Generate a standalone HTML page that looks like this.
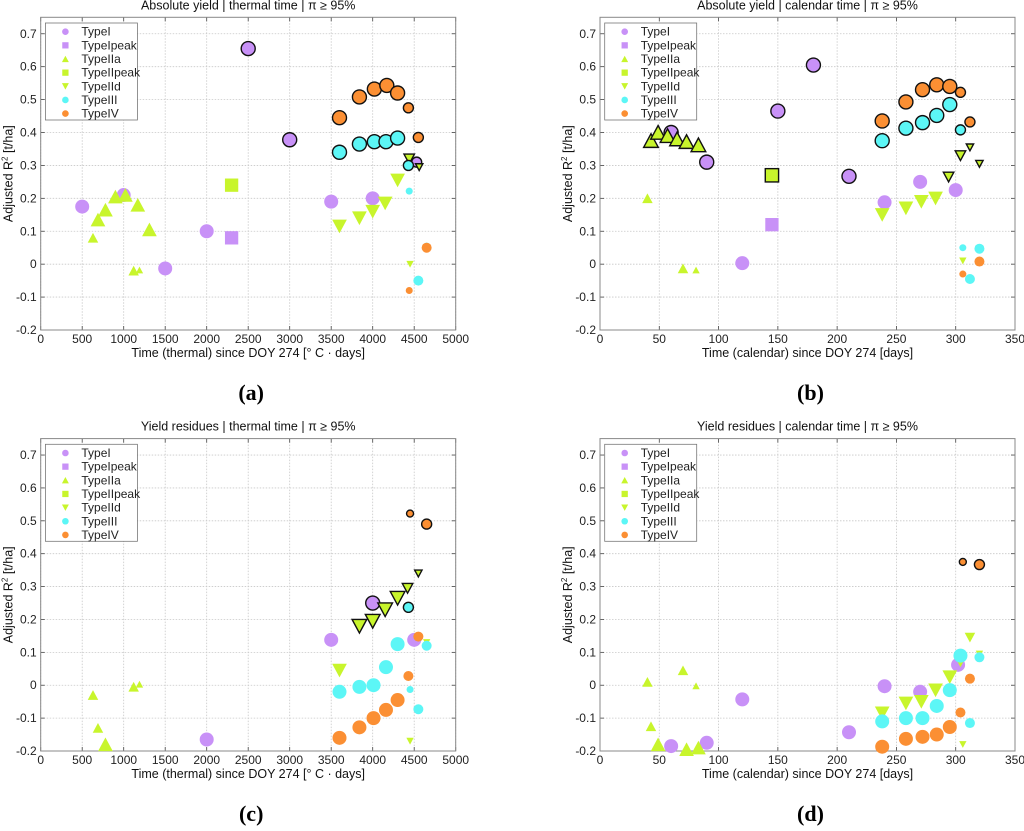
<!DOCTYPE html>
<html><head><meta charset="utf-8">
<style>
html,body{margin:0;padding:0;background:#fff;}
svg{display:block;font-family:"Liberation Sans",sans-serif;}
</style></head>
<body>
<svg id="fig" width="1024" height="831" viewBox="0 0 1024 831" xmlns="http://www.w3.org/2000/svg"></svg>
<script>
// ---- data: [x, y, size(L/M/S), outlined(1/0)] ----
const xTicksThermal = [0,500,1000,1500,2000,2500,3000,3500,4000,4500,5000];
const xTicksCalendar = [0,50,100,150,200,250,300,350];
const yTicks = [-0.2,-0.1,0,0.1,0.2,0.3,0.4,0.5,0.6,0.7];
const yTickLabels = ["-0.2","-0.1","0","0.1","0.2","0.3","0.4","0.5","0.6","0.7"];
const seriesNames = ["TypeI","TypeIpeak","TypeIIa","TypeIIpeak","TypeIId","TypeIII","TypeIV"];

const a_typeI = [[500,0.175,'L',0],[1000,0.21,'L',0],[1500,-0.013,'L',0],[2000,0.10,'L',0],[2500,0.655,'L',1],[3000,0.378,'L',1],[3500,0.19,'L',0],[4000,0.20,'L',0],[4530,0.31,'M',1]];
const a_typeIpeak = [[2300,0.08,'L',0]];
const a_typeIIa = [[630,0.08,'M',0],[690,0.135,'L',0],[780,0.165,'L',0],[900,0.205,'L',0],[1020,0.21,'L',0],[1170,0.18,'L',0],[1310,0.105,'L',0],[1120,-0.02,'M',0],[1190,-0.018,'S',0]];
const a_typeIIpeak = [[2300,0.24,'L',0]];
const a_typeIId = [[3600,0.115,'L',0],[3840,0.14,'L',0],[4000,0.16,'L',0],[4150,0.185,'L',0],[4300,0.255,'L',0],[4440,0.32,'M',1],[4560,0.295,'S',1],[4450,0.0,'S',0]];
const a_typeIII = [[3600,0.34,'L',1],[3840,0.365,'L',1],[4020,0.372,'L',1],[4160,0.372,'L',1],[4300,0.383,'L',1],[4430,0.30,'M',1],[4440,0.222,'S',0],[4550,-0.05,'M',0],[4650,0.055,'S',0]];
const a_typeIV = [[3600,0.445,'L',1],[3840,0.508,'L',1],[4020,0.532,'L',1],[4170,0.543,'L',1],[4300,0.52,'L',1],[4430,0.475,'M',1],[4550,0.385,'M',1],[4650,0.05,'M',0],[4440,-0.08,'S',0]];

const b_typeI = [[60,0.40,'L',1],[90,0.31,'L',1],[120,0.003,'L',0],[150,0.465,'L',1],[180,0.605,'L',1],[210,0.267,'L',1],[240,0.188,'L',0],[270,0.25,'L',0],[300,0.225,'L',0]];
const b_typeIpeak = [[145,0.12,'L',0]];
const b_typeIIa = [[43,0.375,'L',1],[49,0.40,'L',1],[57,0.39,'L',1],[65,0.38,'L',1],[73,0.372,'L',1],[83,0.362,'L',1],[40,0.20,'M',0],[70,-0.013,'M',0],[81,-0.018,'S',0]];
const b_typeIIpeak = [[145,0.27,'L',1]];
const b_typeIId = [[238,0.15,'L',0],[258,0.17,'L',0],[271,0.19,'L',0],[283,0.20,'L',0],[294,0.265,'M',1],[304,0.33,'M',1],[312,0.355,'S',1],[320,0.305,'S',1],[306,0.01,'S',0]];
const b_typeIII = [[238,0.375,'L',1],[258,0.413,'L',1],[272,0.43,'L',1],[284,0.452,'L',1],[295,0.485,'L',1],[304,0.408,'M',1],[306,0.05,'S',0],[312,-0.045,'M',0],[320,0.047,'M',0]];
const b_typeIV = [[238,0.435,'L',1],[258,0.493,'L',1],[272,0.53,'L',1],[284,0.545,'L',1],[295,0.54,'L',1],[304,0.522,'M',1],[312,0.432,'M',1],[306,-0.03,'S',0],[320,0.008,'M',0]];

const c_typeI = [[2000,-0.165,'L',0],[3500,0.138,'L',0],[4000,0.25,'L',1],[4500,0.138,'L',0]];
const c_typeIpeak = [];
const c_typeIIa = [[630,-0.03,'M',0],[690,-0.13,'M',0],[780,-0.18,'L',0],[1120,-0.005,'M',0],[1190,0.003,'S',0]];
const c_typeIIpeak = [];
const c_typeIId = [[3840,0.18,'L',1],[4000,0.195,'L',1],[4150,0.23,'L',1],[4300,0.265,'L',1],[4420,0.295,'M',1],[4550,0.34,'S',1],[3600,0.045,'L',0],[4450,-0.17,'S',0],[4650,0.13,'S',0]];
const c_typeIII = [[3600,-0.02,'L',0],[3840,-0.005,'L',0],[4010,0.0,'L',0],[4160,0.055,'L',0],[4300,0.125,'L',0],[4430,0.237,'M',1],[4450,-0.013,'S',0],[4550,-0.073,'M',0],[4650,0.12,'M',0]];
const c_typeIV = [[3600,-0.16,'L',0],[3840,-0.128,'L',0],[4010,-0.10,'L',0],[4160,-0.075,'L',0],[4300,-0.045,'L',0],[4430,0.028,'M',0],[4550,0.148,'M',0],[4450,0.522,'S',1],[4650,0.49,'M',1]];

const d_typeI = [[60,-0.185,'L',0],[90,-0.175,'L',0],[120,-0.043,'L',0],[210,-0.143,'L',0],[240,-0.003,'L',0],[270,-0.02,'L',0],[302,0.062,'L',0]];
const d_typeIpeak = [];
const d_typeIIa = [[40,0.01,'M',0],[43,-0.125,'M',0],[49,-0.18,'L',0],[70,0.045,'M',0],[81,-0.002,'S',0],[73,-0.195,'L',0],[83,-0.19,'L',0]];
const d_typeIIpeak = [];
const d_typeIId = [[238,-0.085,'L',0],[258,-0.055,'L',0],[271,-0.05,'L',0],[283,-0.015,'L',0],[295,0.025,'L',0],[304,0.07,'M',0],[312,0.145,'M',0],[320,0.095,'S',0],[306,-0.18,'S',0]];
const d_typeIII = [[238,-0.11,'L',0],[258,-0.1,'L',0],[272,-0.1,'L',0],[284,-0.063,'L',0],[295,-0.015,'L',0],[304,0.09,'L',0],[312,-0.115,'M',0],[320,0.085,'M',0]];
const d_typeIV = [[238,-0.187,'L',0],[258,-0.163,'L',0],[272,-0.157,'L',0],[284,-0.15,'L',0],[295,-0.127,'L',0],[304,-0.083,'M',0],[312,0.02,'M',0],[306,0.375,'S',1],[320,0.367,'M',1]];

const colors = ["#c891f7","#c891f7","#c8f52c","#c8f52c","#c8f52c","#5cf6f6","#fb8f33"];
const shapes = ["circle","square","up","square","down","circle","circle"];
const R = {L:7,M:5,S:3.5};

const NS = "http://www.w3.org/2000/svg";
const svg = document.getElementById("fig");
function mk(tag, attrs, parent){
  const e = document.createElementNS(NS, tag);
  for (const k in attrs) e.setAttribute(k, attrs[k]);
  (parent||svg).appendChild(e);
  return e;
}
function marker(g, shape, cx, cy, r, fill, outlined){
  const st = outlined ? "#111" : "none";
  const sw = outlined ? 1.4 : 0;
  let e;
  if (shape==="circle") e = mk("circle",{cx:cx,cy:cy,r:r,fill:fill,stroke:st,"stroke-width":sw},g);
  else if (shape==="square"){ const s=r*0.95; e = mk("rect",{x:cx-s,y:cy-s,width:2*s,height:2*s,fill:fill,stroke:st,"stroke-width":sw},g); }
  else if (shape==="up"){ const w=r*1.05,h=r*0.95; e = mk("polygon",{points:`${cx-w},${cy+h} ${cx+w},${cy+h} ${cx},${cy-h*1.05}`,fill:fill,stroke:st,"stroke-width":sw},g); }
  else { const w=r*1.05,h=r*0.95; e = mk("polygon",{points:`${cx-w},${cy-h} ${cx+w},${cy-h} ${cx},${cy+h*1.05}`,fill:fill,stroke:st,"stroke-width":sw},g); }
  return e;
}

const panels = [
  {id:"a",L:40.7,Rr:455.7,T:17.3,B:330,xmax:5000,xt:xTicksThermal,title:"Absolute yield | thermal time | \u03c0 \u2265 95%",xl:"Time (thermal) since DOY 274 [\u00b0 C \u00b7 days]",data:[a_typeI,a_typeIpeak,a_typeIIa,a_typeIIpeak,a_typeIId,a_typeIII,a_typeIV]},
  {id:"b",L:600,Rr:1015,T:17.3,B:330,xmax:350,xt:xTicksCalendar,title:"Absolute yield | calendar time | \u03c0 \u2265 95%",xl:"Time (calendar) since DOY 274 [days]",data:[b_typeI,b_typeIpeak,b_typeIIa,b_typeIIpeak,b_typeIId,b_typeIII,b_typeIV]},
  {id:"c",L:40.7,Rr:455.7,T:438.6,B:751,xmax:5000,xt:xTicksThermal,title:"Yield residues | thermal time | \u03c0 \u2265 95%",xl:"Time (thermal) since DOY 274 [\u00b0 C \u00b7 days]",data:[c_typeI,c_typeIpeak,c_typeIIa,c_typeIIpeak,c_typeIId,c_typeIII,c_typeIV]},
  {id:"d",L:600,Rr:1015,T:438.6,B:751,xmax:350,xt:xTicksCalendar,title:"Yield residues | calendar time | \u03c0 \u2265 95%",xl:"Time (calendar) since DOY 274 [days]",data:[d_typeI,d_typeIpeak,d_typeIIa,d_typeIIpeak,d_typeIId,d_typeIII,d_typeIV]}
];

panels.forEach(p=>{
  const g = mk("g",{});
  
  
  const xs = v => p.L + v/p.xmax*(p.Rr-p.L);
  const ys = v => p.B - (v+0.2)/0.95*(p.B-p.T);
  p.xt.forEach(t=>{
    const X = xs(t);
    const gl = mk("line",{x1:X,x2:X,y1:p.T,y2:p.B,stroke:"#c8c8c8","stroke-width":0.8,"stroke-dasharray":"1.5,1.5"},g);
    
    
    mk("line",{x1:X,x2:X,y1:p.B,y2:p.B-4,stroke:"#444","stroke-width":0.8},g);
    mk("line",{x1:X,x2:X,y1:p.T,y2:p.T+4,stroke:"#444","stroke-width":0.8},g);
    const tl = mk("text",{x:X,y:p.B+13,"text-anchor":"middle","font-size":"12",fill:"#222"},g);
    tl.textContent = t;
    
    
  });
  yTicks.forEach((t,i)=>{
    const Y = ys(t);
    const gl = mk("line",{x1:p.L,x2:p.Rr,y1:Y,y2:Y,stroke:"#c8c8c8","stroke-width":0.8,"stroke-dasharray":"1.5,1.5"},g);
    
    
    mk("line",{x1:p.L,x2:p.L+4,y1:Y,y2:Y,stroke:"#444","stroke-width":0.8},g);
    mk("line",{x1:p.Rr,x2:p.Rr-4,y1:Y,y2:Y,stroke:"#444","stroke-width":0.8},g);
    const tl = mk("text",{x:p.L-4,y:Y+4,"text-anchor":"end","font-size":"12",fill:"#222"},g);
    tl.textContent = yTickLabels[i];
    
    
  });
  const box = mk("rect",{x:p.L,y:p.T,width:p.Rr-p.L,height:p.B-p.T,fill:"none",stroke:"#888","stroke-width":1},g);
  
  
  p.data.forEach((ser,si)=>{
    ser.forEach(pt=>{
      const m = marker(g, shapes[si], xs(pt[0]), ys(pt[1]), R[pt[2]], colors[si], pt[3]===1);
      
      
    });
  });
  const lx = p.L+4.7, ly = p.T+5.7;
  const lg = mk("g",{},g);
  
  
  mk("rect",{x:lx,y:ly,width:92,height:97,fill:"#fff",stroke:"#777","stroke-width":0.8},lg);
  seriesNames.forEach((n,i)=>{
    const yy = ly+8.7+i*13.65;
    const m = marker(lg, shapes[i], lx+20, yy, 3.3, colors[i], false);
    
    
    const t = mk("text",{x:lx+36,y:yy+4,"font-size":"12",fill:"#222"},lg);
    t.textContent = n;
    
    
  });
  const cx = (p.L+p.Rr)/2;
  const tt = mk("text",{x:cx,y:p.T-8,"text-anchor":"middle","font-size":"12.5",fill:"#111"},g);
  tt.textContent = p.title;
  
  
  const xl = mk("text",{x:cx,y:p.B+27,"text-anchor":"middle","font-size":"12.5",fill:"#111"},g);
  xl.textContent = p.xl;
  
  
  const yc = (p.T+p.B)/2, yx = p.L-28;
  const yl = mk("text",{x:yx,y:yc,"text-anchor":"middle","font-size":"12.5",fill:"#111",transform:`rotate(-90 ${yx} ${yc})`},g);
  yl.innerHTML = 'Adjusted R<tspan dy="-5" font-size="8">2</tspan><tspan dy="5"> [t/ha]</tspan>';
  
  
  const pl = mk("text",{x:cx+3,y:p.B+70,"text-anchor":"middle","font-size":"22","font-weight":"bold","font-family":"Liberation Serif, serif",fill:"#000"},g);
  pl.textContent = "("+p.id+")";
  
  
});
</script>
</body></html>
